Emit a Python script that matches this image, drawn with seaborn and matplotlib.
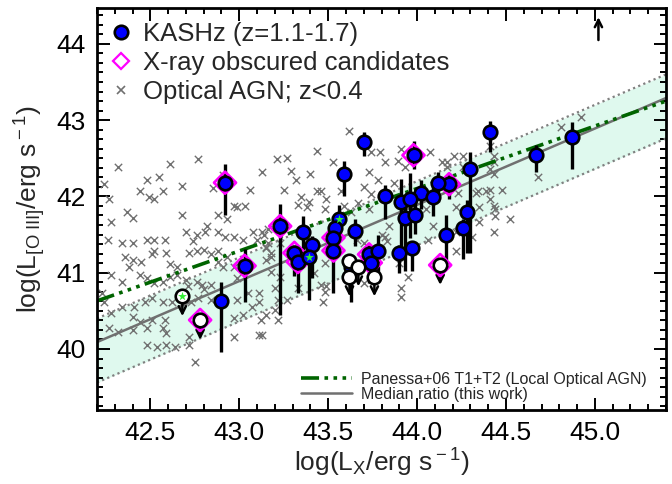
import numpy as np
import pandas as pd
import matplotlib
matplotlib.use('Agg')
import matplotlib.pyplot as plt
import seaborn as sns
from matplotlib.ticker import MultipleLocator
from matplotlib.lines import Line2D

sns.set_theme(style='ticks')
plt.rcParams['font.family'] = ['Liberation Sans', 'DejaVu Sans']
plt.rcParams['mathtext.fontset'] = 'custom'
plt.rcParams['mathtext.rm'] = 'Liberation Sans'
plt.rcParams['mathtext.it'] = 'Liberation Sans:italic'

# ---------------- data ----------------
# Optical AGN (z<0.4): log Lx, log L[OIII]
opt_lx_a = [43.62,43.44,43.27,43.53,43.29,43.40,43.32,43.25,43.46,43.35,43.33,43.39,43.49,43.38,43.70,43.74,43.82,43.89,43.93,43.74,
            43.79,43.73,43.78,43.87,43.67,43.73,43.59,43.63,43.16,43.14,43.66,43.70,43.80,43.84,44.09,44.05,44.14,44.17,44.21,44.26,
            44.43,44.43,44.48,44.22,44.33,44.43,44.44,44.52,44.43,44.23,43.91,43.44,43.57,43.48,43.23,43.18,43.15,43.15,43.18,43.23,
            43.20,43.33,43.42,43.48,43.46,43.48,43.90,43.95,43.91,43.91,43.70,44.22,44.31,44.35,44.44]
opt_lo3_a = [42.86,42.59,42.51,42.45,42.33,42.30,42.22,42.09,42.07,41.99,41.89,41.93,41.96,41.86,42.12,42.03,42.45,42.46,42.38,42.58,
             42.58,42.32,42.22,42.18,41.92,41.83,41.87,41.79,41.57,41.50,41.43,41.39,41.50,41.61,41.61,41.83,42.45,42.45,42.53,42.53,
             42.45,42.29,42.09,41.86,42.05,41.87,41.83,41.70,41.54,42.05,42.62,42.07,42.07,41.83,41.39,41.26,41.34,41.17,41.01,40.95,
             40.80,40.80,41.00,41.13,40.84,40.75,41.13,40.95,40.80,40.68,40.87,41.53,41.47,41.66,41.74]
opt_lx_b = [42.52,42.68,42.40,42.28,42.88,42.93,43.03,42.97,42.34,42.40,42.48,42.52,42.58,42.26,42.70,42.74,42.76,42.82,42.81,42.88,
            42.92,42.97,43.02,43.08,43.13,43.10,43.16,43.15,43.18,42.52,42.51,42.36,42.40,42.45,42.38,42.59,42.61,42.65,42.72,42.76,
            42.80,42.84,42.88,42.88,42.93,42.91,42.97,42.28,42.34,42.44,42.48,42.52,42.57,42.61,42.65,42.70,42.71,42.76,42.79,42.80,
            42.84,42.99,43.11,43.22,43.27,42.23,42.24,42.34,42.41,42.47,42.51,42.57,42.62,42.73,42.77,42.84,42.99,43.05,43.07,43.11,
            43.20,43.02,42.97,42.40,42.44,42.51,42.58,42.57,42.48,42.40,42.59,43.11,42.72,42.72,42.97,42.48,42.54,42.59,42.64]
opt_lo3_b = [41.96,41.76,41.72,41.66,41.75,41.70,41.87,41.87,41.39,41.39,41.43,41.43,41.43,41.43,41.53,41.41,41.50,41.61,41.53,41.54,
             41.47,41.47,41.43,41.54,41.53,41.43,41.39,41.33,41.20,41.28,41.24,41.20,41.17,41.14,41.08,41.26,41.11,41.08,41.26,41.28,
             41.30,41.24,41.28,41.14,41.21,41.08,41.08,40.97,40.88,40.97,40.93,40.87,40.88,40.95,40.97,40.91,40.82,40.88,40.84,40.78,
             40.84,40.93,40.74,40.64,40.64,40.74,40.61,40.55,40.55,40.62,40.67,40.61,40.62,40.62,40.67,40.64,40.64,40.74,40.55,40.61,
             40.51,40.45,40.41,40.42,40.36,40.38,40.38,40.28,40.28,40.25,40.21,40.18,40.16,40.05,40.16,40.05,40.03,40.05,40.03]
opt_lx_c = [42.75,42.27,42.32,42.28,44.41,44.43,44.41,44.68,44.81,44.92,44.34,44.39,44.07,44.17,44.41,44.41,44.35,44.06,44.22,43.82,
            43.83,44.26,43.47,43.49,43.15,43.12,43.22,43.13,42.32,42.24,42.48,42.55,42.61,42.27,42.49,42.57,42.68,42.77,42.85,42.91,
            42.99,43.06,43.13,43.21,42.37,42.44]
opt_lo3_c = [39.83,40.28,40.22,40.47,42.66,42.53,42.36,42.26,42.91,43.04,42.07,42.07,42.58,42.39,42.09,41.96,41.86,41.43,41.28,41.47,
             41.41,42.39,40.62,40.82,40.45,40.38,40.38,40.18,42.38,42.16,42.22,42.25,42.42,41.96,41.99,42.07,42.14,42.49,42.11,42.28,
             41.86,42.09,42.32,42.49,41.80,42.07]

# KASHz detections
kashz_lx = [42.92,43.03,43.23,42.90,43.70,43.98,44.41,43.59,43.82,44.30,44.18,44.12,44.02,44.09,43.91,43.96,43.93,43.99,44.28,44.26,
            44.16,43.36,43.41,43.31,43.33,43.39,43.56,43.54,43.53,43.53,43.65,43.63,43.73,43.78,43.74,43.90,43.97,44.67,44.87]
kashz_lo3 = [42.18,41.09,41.61,40.63,42.71,42.54,42.84,42.30,42.00,42.36,42.16,42.17,42.05,41.99,41.93,41.96,41.72,41.76,41.80,41.58,
             41.50,41.53,41.36,41.26,41.14,41.21,41.70,41.59,41.46,41.29,41.55,41.07,41.24,41.28,41.13,41.26,41.32,42.54,42.78]
kashz_err_lo = [0.42,0.47,1.16,0.67,0.18,0.18,0.26,0.30,0.30,1.10,0.20,0.24,0.22,0.25,0.60,0.50,0.70,0.25,0.54,0.40,
                0.33,0.46,0.43,0.30,0.40,0.57,0.15,0.15,0.15,0.55,0.20,0.46,0.37,0.33,0.20,0.26,0.30,0.22,0.42]
kashz_err_hi = [0.25,0.22,0.29,0.25,0.13,0.18,0.15,0.16,0.15,0.22,0.15,0.15,0.17,0.20,0.30,0.35,0.20,0.20,0.15,0.12,
                0.25,0.21,0.12,0.10,0.10,0.10,0.19,0.10,0.10,0.10,0.15,0.10,0.12,0.22,0.10,0.10,0.10,0.14,0.19]
kashz_obscured = [1,1,1,0,0,1,0,0,0,0,1,0,0,0,0,0,0,0,0,0,
                  0,0,0,1,1,0,0,0,1,1,0,0,1,0,1,0,0,0,0]
kashz_star = [0,0,0,0,0,0,0,0,0,0,0,0,0,0,0,0,0,0,0,0,
              0,0,0,0,0,1,1,0,0,0,0,0,0,0,0,0,0,0,0]

# KASHz upper limits
lim_lx = [42.68,42.78,43.62,43.67,43.62,43.76,44.13]
lim_lo3 = [40.69,40.38,41.15,41.08,40.95,40.95,41.10]
lim_obscured = [0,1,0,0,0,0,1]
lim_star = [1,0,0,0,0,0,0]

# off-scale source (lower limit arrow)
offscale_lx = [45.02]
offscale_lo3 = [44.05]

# relations
rel_lx = [42.2, 45.4]
median_lo3 = [40.09, 43.29]
upper_lo3 = [40.40, 43.60]
lower_lo3 = [39.56, 42.76]
panessa_lo3 = [40.63, 43.25]

# ---------------- plot ----------------
opt = pd.DataFrame({'lx': opt_lx_a + opt_lx_b + opt_lx_c, 'lo3': opt_lo3_a + opt_lo3_b + opt_lo3_c})
kz = pd.DataFrame({'lx': kashz_lx, 'lo3': kashz_lo3, 'elo': kashz_err_lo, 'ehi': kashz_err_hi,
                   'obsc': kashz_obscured, 'star': kashz_star})
lim = pd.DataFrame({'lx': lim_lx, 'lo3': lim_lo3, 'obsc': lim_obscured, 'star': lim_star})

fig = plt.figure(figsize=(6.72, 4.84), dpi=100)
ax = fig.add_axes([97/672, 74/484, 569/672, 402/484])

ax.fill_between(rel_lx, lower_lo3, upper_lo3, color='#dff9ee', lw=0, zorder=0)
sns.scatterplot(data=opt, x='lx', y='lo3', marker='x', color='#707070', s=28, linewidth=1.0,
                ax=ax, zorder=1, legend=False)
ax.plot(rel_lx, upper_lo3, color='#808080', lw=1.6, ls=(0, (1, 1.5)), zorder=2)
ax.plot(rel_lx, lower_lo3, color='#808080', lw=1.6, ls=(0, (1, 1.5)), zorder=2)
ax.plot(rel_lx, median_lo3, color='#707070', lw=1.8, zorder=2)
pan_style = (0, (5, 1.5, 1, 1.5, 1, 1.5, 1, 1.5))
ax.plot(rel_lx, panessa_lo3, color='#006400', lw=2.6, ls=pan_style, zorder=2)

ax.errorbar(kz['lx'], kz['lo3'], yerr=[kz['elo'], kz['ehi']], fmt='none', ecolor='black',
            elinewidth=2.4, capsize=0, zorder=3)

# arrows for upper limits
for x, y in zip(lim_lx, lim_lo3):
    ax.annotate('', xy=(x, y - 0.26), xytext=(x, y - 0.02),
                arrowprops=dict(arrowstyle='->', lw=1.8, color='black', mutation_scale=13,
                                shrinkA=0, shrinkB=0), zorder=3)
for x, y in zip(offscale_lx, offscale_lo3):
    ax.annotate('', xy=(x, y + 0.30), xytext=(x, y),
                arrowprops=dict(arrowstyle='->', lw=1.8, color='black', mutation_scale=13,
                                shrinkA=0, shrinkB=0), zorder=3)

obsc_all = pd.concat([kz.loc[kz['obsc'] == 1, ['lx', 'lo3']], lim.loc[lim['obsc'] == 1, ['lx', 'lo3']]])
ax.scatter(obsc_all['lx'], obsc_all['lo3'], marker='D', s=125, facecolor='none',
           edgecolor='magenta', linewidth=2.0, zorder=4)

sns.scatterplot(data=kz, x='lx', y='lo3', marker='o', s=95, color='#0000ff', edgecolor='black',
                linewidth=1.9, ax=ax, zorder=5, legend=False)
sns.scatterplot(data=lim, x='lx', y='lo3', marker='o', s=95, color='white', edgecolor='black',
                linewidth=1.9, ax=ax, zorder=5, legend=False)

stars = pd.concat([kz.loc[kz['star'] == 1, ['lx', 'lo3']], lim.loc[lim['star'] == 1, ['lx', 'lo3']]])
ax.scatter(stars['lx'], stars['lo3'], marker='*', s=45, color='#33ee33', linewidth=0, zorder=6)

ax.set_xlim(42.2, 45.4)
ax.set_ylim(39.2, 44.47)
ax.xaxis.set_major_locator(MultipleLocator(0.5))
ax.xaxis.set_minor_locator(MultipleLocator(0.1))
ax.yaxis.set_major_locator(MultipleLocator(1))
ax.yaxis.set_minor_locator(MultipleLocator(0.125))
ax.tick_params(which='both', direction='in', top=True, right=True, width=1.4, colors='black')
ax.tick_params(which='major', length=9, labelsize=19, pad=8)
ax.tick_params(which='minor', length=4.5)
ax.xaxis.set_major_formatter(matplotlib.ticker.FormatStrFormatter('%.1f'))
for sp in ax.spines.values():
    sp.set_linewidth(2.0)
    sp.set_color('black')

ax.set_xlabel(r'log(L$_{\rm X}$/erg s$^{\rm -1}$)', fontsize=19, labelpad=1)
ax.set_ylabel(r'log(L$_{\rm [O\ III]}$/erg s$^{\rm -1}$)', fontsize=19, labelpad=6)

h1 = [Line2D([], [], marker='o', ls='none', ms=9.7, mfc='#0000ff', mec='black', mew=1.9),
      Line2D([], [], marker='D', ls='none', ms=8, mfc='none', mec='magenta', mew=1.6),
      Line2D([], [], marker='x', ls='none', ms=6, color='#707070', mew=1.2)]
leg1 = ax.legend(h1, ['KASHz (z=1.1-1.7)', 'X-ray obscured candidates', 'Optical AGN; z<0.4'],
                 loc='upper left', bbox_to_anchor=(0.0, 0.995), frameon=False, fontsize=18.5,
                 handlelength=1.0, handletextpad=0.35, labelspacing=0.2, borderpad=0.25,
                 borderaxespad=0.2)
ax.add_artist(leg1)

h2 = [Line2D([], [], color='#006400', lw=2.6, ls=pan_style),
      Line2D([], [], color='#707070', lw=1.8)]
ax.legend(h2, ['Panessa+06 T1+T2 (Local Optical AGN)', 'Median ratio (this work)'],
          loc='lower right', bbox_to_anchor=(0.975, 0.008), frameon=False, fontsize=11.5,
          handlelength=3.2, handletextpad=0.6, labelspacing=0.0, borderpad=0.3, borderaxespad=0.0)

fig.savefig('out.png', dpi=100)
